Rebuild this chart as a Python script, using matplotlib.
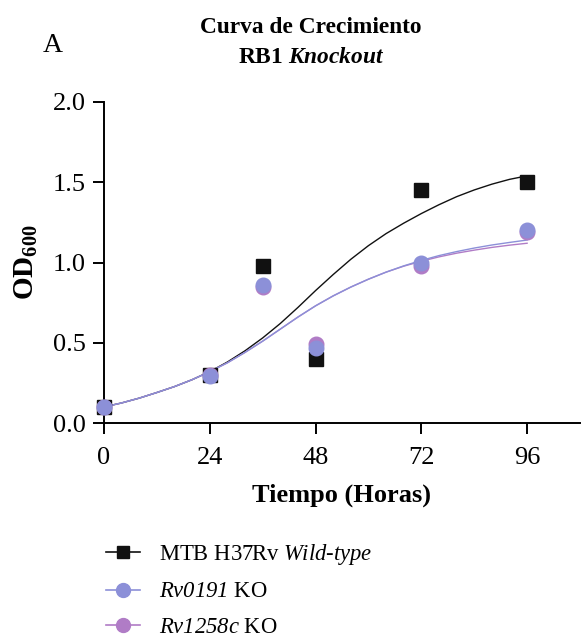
import matplotlib
matplotlib.use('Agg')
import matplotlib.pyplot as plt
from matplotlib.lines import Line2D
from matplotlib.ticker import FormatStrFormatter

plt.rcParams['font.family'] = 'Liberation Serif'
plt.rcParams['mathtext.fontset'] = 'custom'
plt.rcParams['mathtext.rm'] = 'Liberation Serif'
plt.rcParams['mathtext.it'] = 'Liberation Serif:italic'
plt.rcParams['mathtext.bf'] = 'Liberation Serif:bold'
# italic with digits, and bold italic, via spare mathtext slots
plt.rcParams['mathtext.sf'] = 'Liberation Serif:italic'
plt.rcParams['mathtext.cal'] = 'Liberation Serif:bold:italic'

# measured points (hours, OD600)
hours = [0, 24, 36, 48, 72, 96]
wt = [0.10, 0.30, 0.98, 0.40, 1.45, 1.50]
rv0191 = [0.10, 0.29, 0.86, 0.47, 1.00, 1.20]
rv1258c = [0.10, 0.30, 0.85, 0.49, 0.98, 1.19]

# fitted curves, every 4 h
fit_hours = [0, 4, 8, 12, 16, 20, 24, 28, 32, 36, 40, 44, 48,
             52, 56, 60, 64, 68, 72, 76, 80, 84, 88, 92, 96]
fit_wt = [0.10, 0.125, 0.155, 0.19, 0.227, 0.27, 0.32, 0.38, 0.45, 0.53,
          0.62, 0.72, 0.825, 0.925, 1.02, 1.105, 1.18, 1.245, 1.305, 1.36,
          1.41, 1.452, 1.488, 1.518, 1.54]
fit_rv0191 = [0.10, 0.125, 0.155, 0.19, 0.227, 0.27, 0.32, 0.375, 0.44, 0.51,
              0.585, 0.66, 0.73, 0.792, 0.847, 0.896, 0.94, 0.979, 1.013, 1.043,
              1.068, 1.09, 1.109, 1.125, 1.14]
fit_rv1258c = [0.10, 0.125, 0.155, 0.19, 0.227, 0.27, 0.32, 0.375, 0.44, 0.51,
               0.585, 0.66, 0.73, 0.792, 0.847, 0.896, 0.94, 0.977, 1.008, 1.035,
               1.058, 1.077, 1.094, 1.108, 1.12]

xticks = [0, 24, 48, 72, 96]
yticks = [0.0, 0.5, 1.0, 1.5, 2.0]

c_wt = '#111111'
c_0191 = '#8c90d8'
c_1258 = '#b07cc6'

fig = plt.figure(figsize=(5.81, 6.43), dpi=100)
ax = fig.add_axes([104/581, 220/643, 476/581, 321/643])

ax.plot(fit_hours, fit_wt, color=c_wt, lw=1.0, zorder=2)
ax.plot(fit_hours, fit_rv1258c, color=c_1258, lw=1.0, zorder=2)
ax.plot(fit_hours, fit_rv0191, color=c_0191, lw=1.0, zorder=2)

ax.plot(hours, wt, 's', color=c_wt, ms=9.5, clip_on=False, zorder=4)
ax.plot(hours, rv1258c, 'o', color=c_1258, ms=10.5, clip_on=False, zorder=5)
ax.plot(hours, rv0191, 'o', color=c_0191, ms=10.5, clip_on=False, zorder=6)

ax.set_xlim(0, 108)
ax.set_ylim(0, 2.0)
ax.set_xticks(xticks)
ax.set_yticks(yticks)
ax.yaxis.set_major_formatter(FormatStrFormatter('%.1f'))
for s in ['top', 'right']:
    ax.spines[s].set_visible(False)
for s in ['left', 'bottom']:
    ax.spines[s].set_linewidth(1.4)
ax.tick_params(length=8, width=1.4, labelsize=19)
ax.tick_params(axis='x', pad=9)
ax.tick_params(axis='y', pad=5)

ax.set_xlabel('Tiempo (Horas)', fontsize=19, fontweight='bold', labelpad=11)
ax.set_ylabel(r'$\mathbf{OD}_{\mathbf{600}}$', fontsize=21, labelpad=9)

fig.text(311/581, 1 - 33/643, 'Curva de Crecimiento', ha='center',
         va='baseline', fontsize=16.8, fontweight='bold')
fig.text(311/581, 1 - 63/643, r'RB1 $\mathcal{Knockout}$',
         ha='center', va='baseline', fontsize=16.8, fontweight='bold')
fig.text(43/581, 1 - 52/643, 'A', ha='left', va='baseline', fontsize=20)

handles = [
    Line2D([], [], color=c_wt, marker='s', ms=9, lw=1.2),
    Line2D([], [], color=c_0191, marker='o', ms=10, lw=1.2),
    Line2D([], [], color=c_1258, marker='o', ms=10, lw=1.2),
]
labels = [
    r'MTB H37Rv $\mathsf{Wild}$-$\mathsf{type}$',
    r'$\mathsf{Rv0191}$ KO',
    r'$\mathsf{Rv1258c}$ KO',
]
fig.legend(handles, labels, loc='upper left',
           bbox_to_anchor=(106/581, 1 - 542/643), frameon=False,
           fontsize=16.3, handlelength=1.5, handletextpad=0.85,
           labelspacing=0.64, borderpad=0, borderaxespad=0)

fig.savefig('out.png', dpi=100)
